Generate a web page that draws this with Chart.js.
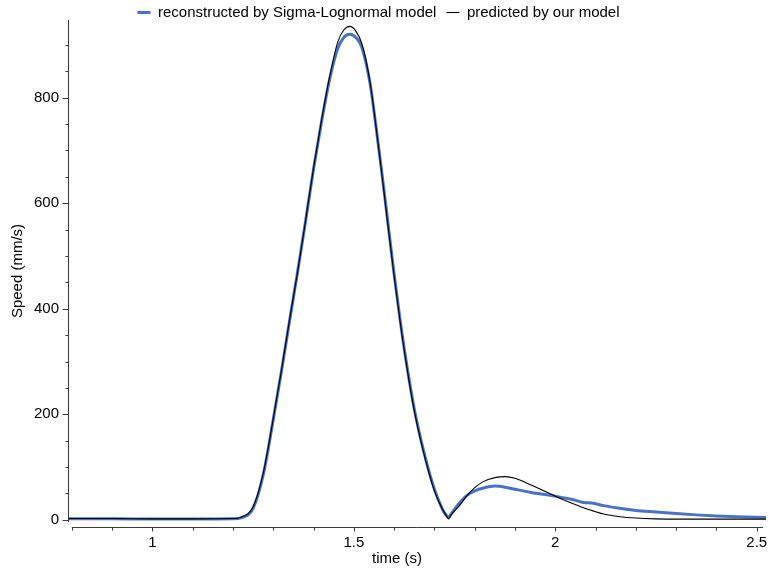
<!DOCTYPE html>
<html>
<head>
<meta charset="utf-8">
<script src="https://cdn.jsdelivr.net/npm/chart.js@4/dist/chart.umd.min.js"></script>
<style>
  html, body { margin: 0; padding: 0; background: #ffffff; }
  #wrap { width: 769px; height: 570px; }
</style>
</head>
<body>
<div id="wrap"><canvas id="speedChart" width="769" height="570"></canvas></div>
<script>
// Sample times (s)
const timeValues = [
  0.793, 0.9, 1.0, 1.1, 1.2, 1.22, 1.25, 1.275, 1.30, 1.32, 1.34, 1.36, 1.38, 1.40,
  1.42, 1.44, 1.46, 1.475, 1.49, 1.505, 1.52, 1.54, 1.555, 1.57, 1.585, 1.60, 1.615,
  1.63, 1.65, 1.675, 1.70, 1.72, 1.728, 1.735, 1.742, 1.76, 1.78, 1.80, 1.82, 1.85,
  1.875, 1.90, 1.94, 2.0, 2.04, 2.07, 2.09, 2.12, 2.16, 2.2, 2.25, 2.3, 2.35, 2.4,
  2.45, 2.523
];

// Speed reconstructed by the Sigma-Lognormal model (mm/s)
const reconstructedSpeed = [
  2, 2, 1.5, 1.5, 2, 4, 22, 85, 190, 280, 375, 468, 565, 665,
  755, 835, 893, 914, 920, 914, 895, 828, 745, 655, 560, 465, 378,
  300, 210, 125, 58, 20, 10, 5, 12, 30, 46, 55, 60, 64,
  62, 58, 52, 45, 39, 33, 32, 27, 22, 18, 15, 12, 9.5, 7.5,
  6, 4.5
];

// Speed predicted by our model (mm/s)
const predictedSpeed = [
  2.5, 2.5, 2, 2, 2.5, 5, 25, 88, 192, 282, 377, 468, 566, 667,
  758, 840, 905, 928, 935, 926, 902, 830, 745, 652, 556, 462, 375,
  297, 207, 122, 55, 20, 10, 2, 10, 25, 45, 61, 72, 80,
  82, 79, 66, 45, 32, 23, 18, 11, 6, 3.5, 2, 1.5, 1.5, 1.5,
  1.5, 1.5
];

// Axis ticks
const xTickValues = [1, 1.5, 2, 2.5];
const xTickLabels = ['1', '1.5', '2', '2.5'];
const yTickValues = [0, 200, 400, 600, 800];
const yTickLabels = ['0', '200', '400', '600', '800'];

const seriesNames = ['reconstructed by Sigma-Lognormal model', 'predicted by our model'];

const toPoints = (ys) => timeValues.map((t, i) => ({ x: t, y: ys[i] }));

const FONT = '"Liberation Sans", Arial, Helvetica, sans-serif';
const AXIS_COLOR = '#3a3a3a';

// Detached axis lines with major and minor tick marks
const axesPlugin = {
  id: 'detachedAxes',
  afterDraw(chart) {
    const { ctx, chartArea, scales } = chart;
    const xs = scales.x, ys = scales.y;
    ctx.save();
    ctx.strokeStyle = AXIS_COLOR;
    ctx.lineWidth = 1;

    // y axis
    const yx = chartArea.left - 0.5;
    ctx.beginPath();
    ctx.moveTo(yx, chartArea.top);
    ctx.lineTo(yx, chartArea.bottom);
    for (let v = 0; v <= 900; v += 50) {
      const py = Math.round(ys.getPixelForValue(v)) + 0.5;
      const len = (v % 200 === 0) ? 6 : 3;
      ctx.moveTo(yx, py);
      ctx.lineTo(yx - len, py);
    }
    ctx.stroke();

    // x axis
    const xy = chartArea.bottom + 5.5;
    ctx.beginPath();
    ctx.moveTo(xs.getPixelForValue(0.8), xy);
    ctx.lineTo(chartArea.right - 3, xy);
    for (let k = 8; k <= 25; k++) {
      const v = k / 10;
      const px = Math.round(xs.getPixelForValue(v)) + 0.5;
      const len = (k % 5 === 0) ? 4 : 3;
      ctx.moveTo(px, xy);
      ctx.lineTo(px, xy + len);
    }
    ctx.stroke();

    // x axis title
    ctx.fillStyle = '#000000';
    ctx.font = '15px ' + FONT;
    ctx.textAlign = 'center';
    ctx.textBaseline = 'middle';
    ctx.fillText('time (s)', 397, 559);
    ctx.restore();
  }
};

// The thin predicted curve is listed first so it is painted above the thick one;
// the legend is reversed to keep the reconstructed series first.
new Chart(document.getElementById('speedChart'), {
  type: 'line',
  data: {
    datasets: [
      {
        label: seriesNames[1],
        data: toPoints(predictedSpeed),
        borderColor: '#000000',
        borderWidth: 1.1,
        pointRadius: 0,
        pointStyle: 'line',
        cubicInterpolationMode: 'monotone',
        fill: false
      },
      {
        label: seriesNames[0],
        data: toPoints(reconstructedSpeed),
        borderColor: '#4a72c4',
        borderWidth: 3,
        pointRadius: 0,
        pointStyle: 'line',
        cubicInterpolationMode: 'monotone',
        fill: false
      }
    ]
  },
  options: {
    responsive: false,
    animation: false,
    devicePixelRatio: 1,
    layout: { padding: { top: -5, right: 3, bottom: 0, left: -9 } },
    plugins: {
      legend: {
        display: true,
        position: 'top',
        reverse: true,
        maxHeight: 25,
        labels: {
          usePointStyle: true,
          pointStyleWidth: 13,
          padding: 10,
          color: '#000000',
          font: { family: FONT, size: 15 }
        }
      },
      tooltip: { enabled: false }
    },
    scales: {
      x: {
        type: 'linear',
        min: 0.793,
        max: 2.523,
        grid: { display: false, drawTicks: false },
        border: { display: false },
        afterBuildTicks: (s) => { s.ticks = xTickValues.map(v => ({ value: v })); },
        afterFit: (s) => { s.height = 48; s.paddingLeft = 0; s.paddingRight = 0; },
        ticks: {
          padding: 12,
          maxRotation: 0,
          autoSkip: false,
          color: '#000000',
          font: { family: FONT, size: 15 },
          callback: (v) => xTickLabels[xTickValues.indexOf(v)]
        }
      },
      y: {
        type: 'linear',
        min: -4,
        max: 947,
        grid: { display: false, drawTicks: false },
        border: { display: false },
        afterBuildTicks: (s) => { s.ticks = yTickValues.map(v => ({ value: v })); },
        afterFit: (s) => { s.width = 78; s.paddingTop = 0; s.paddingBottom = 0; },
        title: {
          display: true,
          text: 'Speed (mm/s)',
          color: '#000000',
          font: { family: FONT, size: 15 },
          padding: { top: 18, bottom: 0 }
        },
        ticks: {
          padding: 10,
          autoSkip: false,
          color: '#000000',
          font: { family: FONT, size: 15 },
          callback: (v) => yTickLabels[yTickValues.indexOf(v)]
        }
      }
    }
  },
  plugins: [axesPlugin]
});
</script>
</body>
</html>
